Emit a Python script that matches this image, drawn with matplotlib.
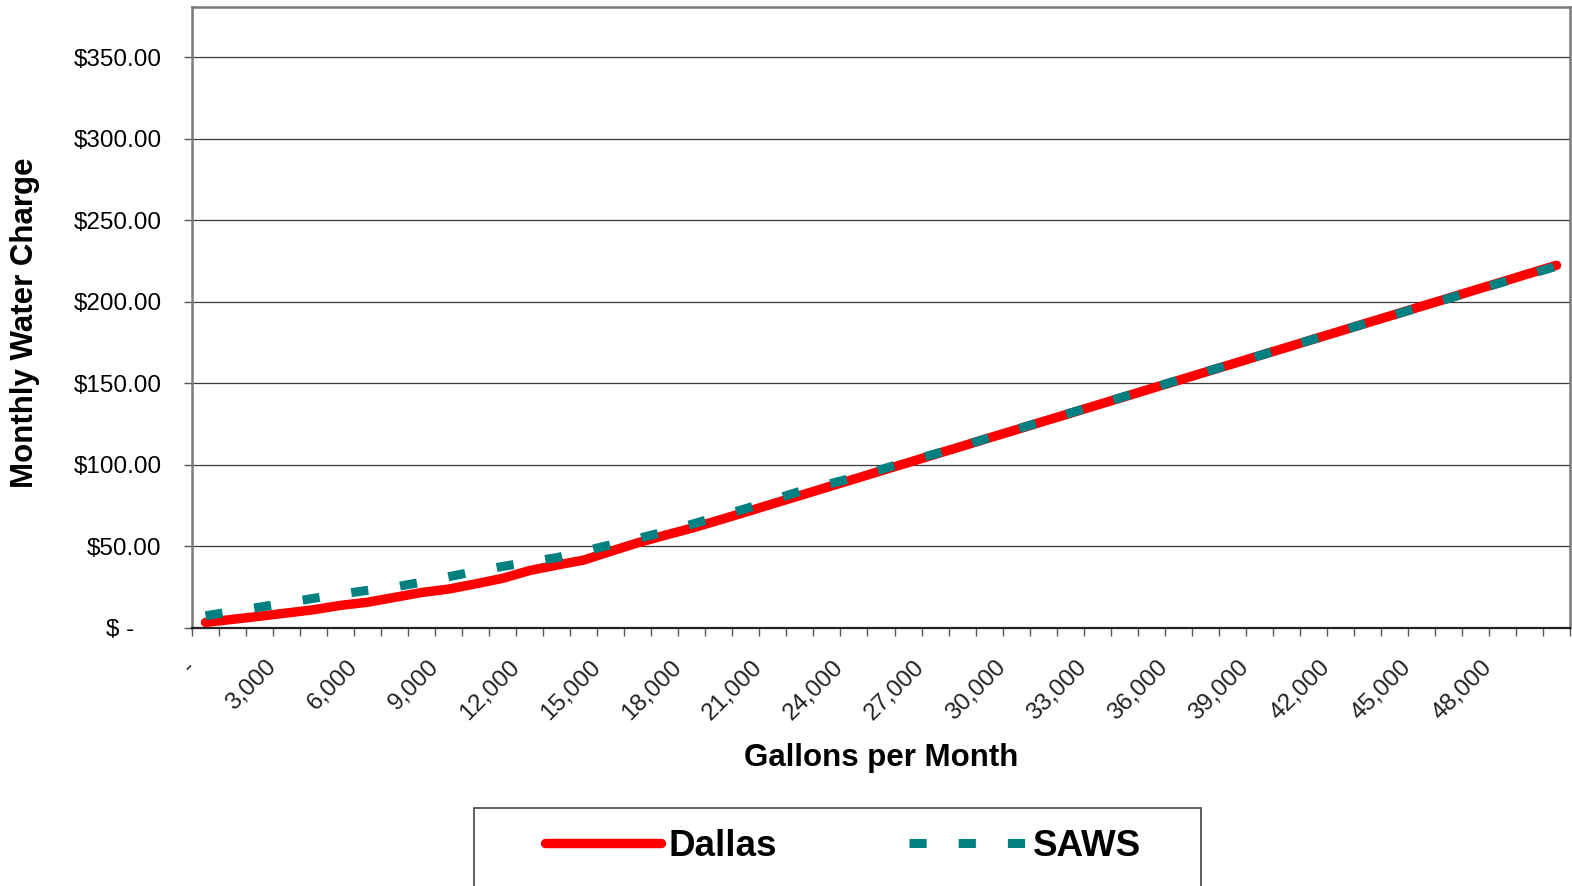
import matplotlib
matplotlib.use("Agg")
import matplotlib.pyplot as plt
from matplotlib.patches import Rectangle
from matplotlib.lines import Line2D

plt.rcParams['font.family'] = ['Liberation Sans', 'DejaVu Sans']

# categories: gallons per month, 0 to 50,000 in steps of 1,000
gallons = list(range(0, 51000, 1000))
gallon_labels = ['-' if g == 0 else f"{g:,}" for g in gallons]

dallas = [3.1, 5.0, 6.9, 8.9, 10.9, 13.6, 15.5, 18.5, 21.5, 23.6,
          26.8, 30.2, 35.0, 38.3, 41.4, 46.8, 52.0, 56.6, 61.0, 65.9,
          70.9, 76.0, 81.0, 86.1, 91.1, 96.2, 101.2, 106.3, 111.3, 116.4,
          121.4, 126.5, 131.5, 136.6, 141.6, 146.7, 151.7, 156.8, 161.8, 166.9,
          171.9, 177.0, 182.0, 187.1, 192.1, 197.2, 202.2, 207.3, 212.3, 217.4,
          222.4]
saws = [7.2, 9.9, 12.5, 15.2, 17.9, 20.5, 22.8, 24.9, 27.8, 31.2,
        34.5, 37.5, 40.3, 42.9, 46.8, 50.8, 54.6, 58.8, 63.4, 68.3,
        73.0, 78.4, 83.6, 87.8, 92.1, 97.0, 102.0, 106.6, 111.4, 116.5,
        121.6, 126.6, 131.7, 136.7, 141.8, 146.8, 151.9, 156.9, 161.9, 166.9,
        172.0, 177.0, 182.0, 187.0, 192.0, 197.0, 202.0, 207.0, 212.0, 216.9,
        221.8]

y_ticks = [0, 50, 100, 150, 200, 250, 300, 350]
y_labels = ['$ -    ', '$50.00', '$100.00', '$150.00', '$200.00',
            '$250.00', '$300.00', '$350.00']

W, H = 1572, 886
fig = plt.figure(figsize=(W / 100, H / 100), dpi=100)
ax = fig.add_axes([192 / W, 1 - 627.5 / H, 1378 / W, 620.5 / H])

xpos = [i + 0.5 for i in range(len(gallons))]
ax.plot(xpos, dallas, color='#FF0000', lw=6.8, solid_capstyle='round',
        solid_joinstyle='round', label='Dallas', zorder=3)
ax.plot(xpos, saws, color='#008080', lw=6.5, dashes=(1.9, 3.55),
        dash_capstyle='butt', label='SAWS', zorder=4)

ax.set_xlim(0, len(gallons))
ax.set_ylim(0, 381)

ax.set_yticks(y_ticks)
ax.set_yticklabels(y_labels, fontsize=17.5)
ax.yaxis.grid(True, color='#3a3a3a', lw=0.9)
ax.set_axisbelow(True)

ticks = list(range(len(gallons) + 1))
labels = [gallon_labels[i] if (i < len(gallons) and i % 3 == 0) else '' for i in ticks]
ax.set_xticks(ticks)
ax.set_xticklabels(labels, rotation=45, ha='right', va='center',
                   rotation_mode='anchor', fontsize=17.5, color='#222222')

ax.tick_params(axis='y', length=6, width=1.0, color='#555555', pad=16)
ax.tick_params(axis='x', length=6, width=1.0, color='#555555', pad=20)

for side in ['left', 'top', 'right']:
    ax.spines[side].set_color('#7a7a7a')
    ax.spines[side].set_linewidth(1.8)
ax.spines['bottom'].set_color('#222222')
ax.spines['bottom'].set_linewidth(1.6)

fig.text(25 / W, 1 - 323 / H, 'Monthly Water Charge', rotation=90,
         ha='center', va='center', fontsize=22.5, fontweight='bold')
fig.text(881 / W, 1 - 758 / H, 'Gallons per Month', ha='center',
         va='center', fontsize=22.5, fontweight='bold')

# legend box, cut off at the bottom edge like the original
fig.patches.append(Rectangle((474 / W, -0.05), (1201 - 474) / W, (886 - 808) / H + 0.05,
                             transform=fig.transFigure, fill=False,
                             edgecolor='#444444', lw=1.2))
handles = [Line2D([], [], color='#FF0000', lw=6.8, solid_capstyle='round'),
           Line2D([], [], color='#008080', lw=6.5, dashes=(1.9, 3.55))]
leg = fig.legend(handles, ['Dallas', 'SAWS'], loc='center left',
                 bbox_to_anchor=(545 / W, 1 - 846 / H), ncol=2, frameon=False,
                 prop={'weight': 'bold', 'size': 26.5}, handlelength=3.15,
                 handletextpad=0.2, columnspacing=3.6, borderpad=0,
                 borderaxespad=0)

fig.savefig('out.png', dpi=100, facecolor='white')
